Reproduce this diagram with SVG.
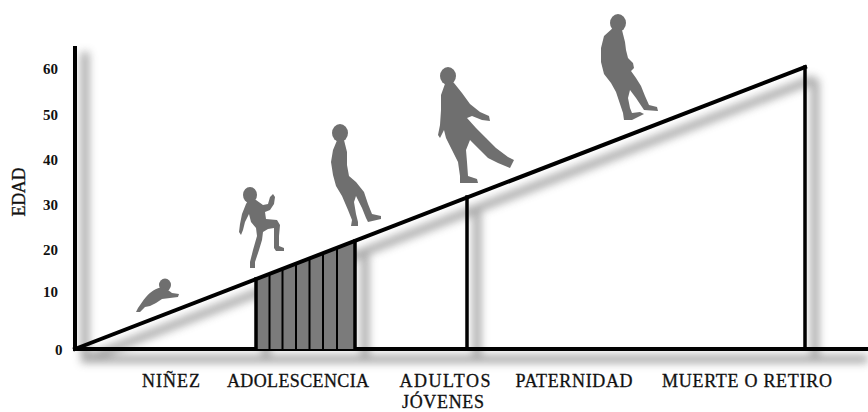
<svg xmlns="http://www.w3.org/2000/svg" width="868" height="412" viewBox="0 0 868 412">
<defs>
<filter id="blur" x="-20%" y="-20%" width="140%" height="140%"><feGaussianBlur stdDeviation="4.5"/></filter>
<style>
.ln{stroke:#000;fill:none;stroke-linecap:square}
.ax{stroke-width:4}
.vl{stroke-width:3.5}
.ht{stroke:#000;stroke-width:2}
.sh{stroke:#8a8a8a;fill:none;stroke-width:8}
.fig{fill:#6f6f6f}
.lab{font-family:"Liberation Serif","DejaVu Serif","Times New Roman",serif;font-size:18px;fill:#111;stroke:#111;stroke-width:0.3}
.num{font-family:"Liberation Serif","DejaVu Serif","Times New Roman",serif;font-size:15px;font-weight:bold;fill:#111}
</style>
</defs>
<rect width="868" height="412" fill="#fff"/>
<g id="shadows" filter="url(#blur)" opacity="0.75">
<path class="sh" d="M85,52 L85,359 L868,359"/>
<path class="sh" d="M85,359 L814,79"/>
<path class="sh" d="M815,79 L815,359 M477,209 L477,359 M365,251 L365,359 M266,289 L266,359"/>
</g>
<g id="axes">
<path class="ln ax" d="M75,48 L75,349 L868,349"/>
<text class="num" x="43" y="74">60</text>
<text class="num" x="43" y="120">50</text>
<text class="num" x="43" y="165">40</text>
<text class="num" x="43" y="210">30</text>
<text class="num" x="43" y="255">20</text>
<text class="num" x="43" y="297">10</text>
<text class="num" x="55" y="355">0</text>
<text class="lab" transform="translate(25,192) rotate(-90)" text-anchor="middle" textLength="49">EDAD</text>
</g>
<g id="adolescencia-band">
<polygon points="256,279 355,241 355,349 256,349" fill="#7b7b7b"/>
<path class="ht" d="M269.5,274 V349 M282.5,269 V349 M296,264 V349 M309.5,259 V349 M323,253 V349 M337,248 V349"/>
</g>
<g id="connectors">
<path class="ln ax" d="M75,349 L805,67"/>
<path class="ln vl" d="M256,279 V349 M355,241 V349 M467,197 V349 M805,67 V349"/>
</g>
<g id="ninez">
<ellipse class="fig" cx="165" cy="285" rx="6" ry="6.5"/>
<path class="fig" d="M163,287 C156,288 150,292 146,297 C143,300 141,304 138,308 L136,312 L140,312 L145,307 L150,306 L156,303 L162,299 L170,298 L178,297 L179,294 L172,293 L168,290 Z"/>
<text class="lab" x="171" y="387" text-anchor="middle" textLength="58">NIÑEZ</text>
</g>
<g id="adolescencia">
<ellipse class="fig" cx="250" cy="195" rx="7" ry="8"/>
<path class="fig" d="M249,199 L246,204 L242,214 L240,224 L239,232 L241,235 L243,230 L245,222 L249,214 L251,222 L256,228 L257,236 L253,250 L250,262 L250,268 L255,268 L255,262 L259,250 L262,240 L263,232 L268,229 L274,228 L274,238 L274,248 L276,251 L284,251 L284,248 L279,246 L279,236 L280,225 L277,220 L266,219 L265,212 L270,210 L274,204 L275,197 L273,194 L270,197 L268,204 L263,205 L256,200 Z"/>
<ellipse class="fig" cx="340" cy="133" rx="8" ry="9"/>
<path class="fig" d="M338,138 L333,150 L331,162 L333,175 L336,186 L342,196 L348,210 L352,220 L351,226 L358,226 L358,222 L356,214 L354,202 L356,196 L362,208 L366,218 L368,222 L381,219 L381,216 L372,214 L368,204 L364,192 L356,182 L349,176 L347,165 L347,152 L344,140 Z"/>
<text class="lab" x="298" y="387" text-anchor="middle" textLength="142">ADOLESCENCIA</text>
</g>
<g id="adultos-jovenes">
<ellipse class="fig" cx="448" cy="76" rx="8" ry="9"/>
<path class="fig" d="M446,81 L441,95 L441,110 L440,125 L438,135 L440,138 L444,130 L446,138 L452,150 L458,162 L460,176 L460,183 L478,183 L477,179 L468,176 L467,162 L466,150 L470,140 L480,150 L488,158 L498,163 L510,168 L514,160 L508,157 L496,148 L486,138 L476,128 L467,118 L472,116 L482,120 L490,121 L489,116 L480,112 L470,104 L462,93 L454,83 Z"/>
<text class="lab" x="445" y="387" text-anchor="middle" textLength="91">ADULTOS</text>
<text class="lab" x="443" y="408" text-anchor="middle" textLength="82">JÓVENES</text>
</g>
<g id="paternidad">
<ellipse class="fig" cx="618" cy="23" rx="8" ry="9"/>
<path class="fig" d="M614,27 L604,36 L601,48 L601,62 L604,74 L611,83 L616,92 L620,104 L623,113 L624,120 L632,120 L640,116 L644,114 L640,112 L632,113 L630,108 L628,98 L630,90 L636,98 L642,107 L644,110 L658,111 L657,107 L649,105 L645,96 L641,86 L636,78 L631,71 L634,68 L633,63 L628,58 L626,50 L625,42 L622,30 Z"/>
<text class="lab" x="574" y="387" text-anchor="middle" textLength="117">PATERNIDAD</text>
</g>
<g id="muerte-o-retiro">
<text class="lab" x="747" y="387" text-anchor="middle" textLength="170">MUERTE O RETIRO</text>
</g>
</svg>
